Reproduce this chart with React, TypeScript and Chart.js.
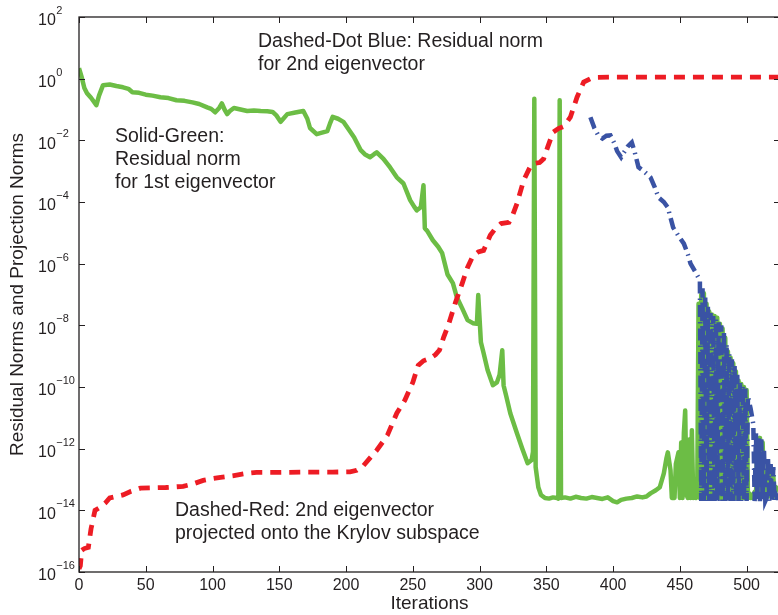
import React, { useEffect, useRef } from 'react';
import { Chart, registerables } from 'chart.js';

Chart.register(...registerables);

// ---- axes ----
const xTicks = [0, 50, 100, 150, 200, 250, 300, 350, 400, 450, 500];
const yTickExponents = [-16, -14, -12, -10, -8, -6, -4, -2, 0, 2];
const xMin = 0;
const xMax = 525;

// ---- Solid green: residual norm for 1st eigenvector (iteration, log10 of norm) ----
const greenIter = [
  0, 2, 4, 6, 9, 13, 15, 18, 23, 28,
  33, 37, 40, 45, 50, 55, 61, 67, 73, 79,
  85, 90, 96, 99, 102, 105, 107, 109, 111, 113,
  116, 121, 126, 131, 136, 141, 145, 148, 151, 153,
  156, 162, 168, 171, 173, 178, 182, 186, 188, 190,
  194, 198, 202, 206, 211, 214, 218, 221, 223, 228,
  233, 238, 243, 248, 251, 253, 256, 258, 259, 261,
  265, 269, 272, 276, 280, 283, 287, 291, 295, 298,
  299, 301, 303, 306, 310, 313, 315, 317, 318, 320,
  323, 328, 332, 336, 339, 340, 341, 342, 344, 346,
  349, 352, 355, 358, 359, 360, 361, 364, 368, 372,
  376, 380, 384, 388, 392, 396, 400, 403, 406, 410,
  414, 418, 422, 425, 428, 432, 435, 438, 440, 441,
  443, 444, 446, 447, 449, 450, 451, 452, 453, 454,
  455, 456, 457, 458, 459, 460, 461, 462, 463, 464,
  465, 466, 467, 468, 469, 470, 471, 472, 473, 474,
  475, 476, 477, 478, 479, 480, 481, 482, 483, 484,
  485, 486, 487, 488, 489, 490, 491, 492, 493, 494,
  495, 496, 497, 498, 499, 500, 501, 502, 503, 504,
  505, 506, 507, 508, 509, 510, 511, 512, 513, 514,
  515, 516, 517, 518, 519, 520, 521, 522, 523, 525,
];
const greenLog10 = [
  0.34, 0.05, -0.3, -0.47, -0.62, -0.86, -0.55, -0.21, -0.19, -0.24,
  -0.28, -0.33, -0.44, -0.46, -0.52, -0.55, -0.6, -0.63, -0.7, -0.72,
  -0.77, -0.82, -0.93, -0.98, -1.09, -0.95, -0.8, -1.0, -1.15, -1.05,
  -0.95, -1.0, -1.05, -1.03, -1.05, -1.06, -1.08, -1.2, -1.4, -1.3,
  -1.15, -1.1, -1.05, -1.3, -1.6, -1.8, -1.75, -1.7, -1.45, -1.24,
  -1.3, -1.4, -1.65, -1.9, -2.32, -2.45, -2.55, -2.45, -2.39, -2.6,
  -2.88, -3.2, -3.4, -3.94, -4.15, -4.27, -4.17, -3.46, -4.85, -4.95,
  -5.24, -5.45, -5.66, -6.35, -6.63, -7.09, -7.45, -7.83, -7.93, -7.95,
  -7.02, -8.55, -8.9, -9.45, -9.94, -9.85, -9.6, -8.81, -9.95, -10.3,
  -10.85, -11.5, -12.0, -12.47, -12.37, -12.1, -0.65, -12.6, -13.25, -13.5,
  -13.6, -13.62, -13.58, -13.6, -13.62, -0.7, -13.6, -13.58, -13.62, -13.56,
  -13.6, -13.62, -13.57, -13.6, -13.63, -13.58, -13.7, -13.74, -13.66, -13.62,
  -13.6, -13.55, -13.58, -13.55, -13.45, -13.35, -13.25, -12.8, -12.3, -12.12,
  -12.7, -13.6, -13.6, -12.5, -12.12, -13.6, -11.8, -13.6, -11.5, -10.76,
  -13.5, -13.6, -11.7, -13.6, -11.4, -13.6, -13.0, -13.6, -13.5, -7.3,
  -13.6, -7.0, -13.6, -6.96, -13.6, -7.3, -13.6, -7.55, -13.6, -7.65,
  -13.6, -7.7, -13.6, -7.75, -13.6, -7.95, -13.6, -8.1, -13.6, -8.4,
  -13.6, -8.85, -13.6, -9.05, -13.6, -9.23, -13.6, -9.5, -13.6, -9.8,
  -13.6, -9.9, -13.6, -10.0, -13.6, -10.1, -13.6, -13.45, -13.6, -13.5,
  -13.6, -13.4, -13.55, -11.9, -13.55, -11.65, -13.55, -11.8, -13.55, -13.6,
  -13.45, -12.7, -13.55, -12.6, -13.55, -12.9, -13.55, -13.25, -13.3, -13.35,
];

// ---- Dashed-dot blue: residual norm for 2nd eigenvector ----
const blueIter = [
  383, 386, 389, 392, 395, 398, 401, 403, 406, 408,
  411, 414, 416, 419, 423, 428, 431, 434, 438, 441,
  445, 449, 453, 456, 458, 462, 465, 466, 467, 468,
  469, 470, 471, 472, 473, 474, 475, 476, 477, 478,
  479, 480, 481, 482, 483, 484, 485, 486, 487, 488,
  489, 490, 491, 492, 493, 494, 495, 496, 497, 498,
  499, 500, 501, 503, 505, 506, 507, 508, 509, 510,
  511, 512, 513, 514, 515, 516, 517, 518, 519, 520,
  521, 522, 523, 525,
];
const blueLog10 = [
  -1.25, -1.6, -1.85, -1.94, -1.85, -1.84, -2.1, -2.35, -2.55, -2.4,
  -2.2, -2.07, -2.35, -2.87, -3.0, -3.2, -3.5, -3.85, -4.0, -4.18,
  -4.83, -5.1, -5.35, -5.7, -6.0, -6.3, -6.54, -13.7, -6.8, -13.7,
  -7.1, -13.7, -7.4, -13.7, -7.6, -13.7, -7.7, -13.7, -7.8, -13.7,
  -7.9, -13.7, -8.0, -13.7, -8.2, -13.7, -8.6, -13.7, -8.9, -13.7,
  -9.1, -13.7, -9.3, -13.7, -9.6, -13.7, -9.8, -13.7, -9.95, -13.7,
  -10.05, -13.7, -10.3, -10.7, -11.2, -13.7, -11.5, -13.7, -11.6, -13.7,
  -11.7, -13.7, -12.0, -13.7, -13.6, -12.3, -13.7, -12.5, -13.7, -12.6,
  -13.7, -13.5, -13.6, -13.6,
];

// ---- Dashed red: 2nd eigenvector projected onto the Krylov subspace ----
const redIter = [
  0, 1, 2, 4, 7, 9, 12, 16, 20, 23,
  28, 33, 39, 46, 55, 65, 78, 85, 93, 100,
  106, 115, 126, 133, 150, 170, 190, 203, 208, 213,
  218, 223, 228, 231, 238, 244, 250, 254, 258, 263,
  267, 270, 273, 277, 282, 287, 291, 295, 299, 303,
  308, 312, 316, 322, 325, 328, 333, 338, 341, 345,
  348, 351, 355, 359, 363, 368, 373, 378, 383, 388,
  400, 450, 525,
];
const redLog10 = [
  -15.9, -15.8, -15.3, -15.24, -15.2, -14.6, -14.0, -13.9, -13.75, -13.6,
  -13.55, -13.5, -13.38, -13.28, -13.27, -13.26, -13.22, -13.15, -13.03, -12.97,
  -12.93, -12.88, -12.8, -12.77, -12.77, -12.76, -12.76, -12.75, -12.7, -12.55,
  -12.3, -12.05, -11.75, -11.56, -10.85, -10.43, -9.85, -9.3, -9.15, -9.07,
  -8.95, -8.8, -8.4, -7.94, -7.25, -6.64, -6.12, -5.75, -5.62, -5.57,
  -5.08, -4.85, -4.7, -4.66, -4.4, -4.05, -3.3, -2.85, -2.75, -2.72,
  -2.6, -2.22, -1.74, -1.62, -1.55, -1.25, -0.6, -0.11, 0.0, 0.04,
  0.05, 0.05, 0.05,
];

// ---- texts ----
const yTitle = 'Residual Norms and Projection Norms';
const xTitle = 'Iterations';
const noteBlue = ['Dashed-Dot Blue: Residual norm', 'for 2nd eigenvector'];
const noteGreen = ['Solid-Green:', 'Residual norm', 'for 1st eigenvector'];
const noteRed = ['Dashed-Red: 2nd eigenvector', 'projected onto the Krylov subspace'];

const FONT = '"Liberation Sans", Arial, Helvetica, sans-serif';
const INK = '#231f20';

const toPoints = (xs: number[], ls: number[]) => xs.map((x, i) => ({ x, y: Math.pow(10, ls[i]) }));

const decorPlugin = {
  id: 'decor',
  afterDraw(chart: any) {
    const { ctx, chartArea: a, scales } = chart;
    ctx.save();
    ctx.strokeStyle = INK;
    ctx.lineWidth = 1.3;
    ctx.strokeRect(a.left, a.top, a.right - a.left, a.bottom - a.top);
    ctx.lineWidth = 1;
    ctx.beginPath();
    for (const t of scales.x.ticks) {
      const px = Math.round(scales.x.getPixelForValue(t.value)) + 0.5;
      ctx.moveTo(px, a.bottom); ctx.lineTo(px, a.bottom - 6);
      ctx.moveTo(px, a.top); ctx.lineTo(px, a.top + 6);
    }
    for (const t of scales.y.ticks) {
      const py = Math.round(scales.y.getPixelForValue(t.value)) + 0.5;
      ctx.moveTo(a.left, py); ctx.lineTo(a.left + 6, py);
      ctx.moveTo(a.right, py); ctx.lineTo(a.right - 6, py);
    }
    ctx.stroke();

    ctx.fillStyle = INK;
    ctx.textAlign = 'left';
    ctx.textBaseline = 'middle';
    // y tick labels: 10 with a raised exponent, from the log axis ticks
    for (const t of scales.y.ticks) {
      const py = scales.y.getPixelForValue(t.value);
      const e = Math.round(Math.log10(t.value));
      ctx.font = '16px ' + FONT;
      ctx.fillText('10', 38, py + 4);
      const w = ctx.measureText('10').width;
      ctx.font = '11px ' + FONT;
      ctx.fillText(String(e).replace('-', '\u2212'), 38 + w + 0.5, py - 6);
    }

    ctx.font = '19.5px ' + FONT;
    noteBlue.forEach((t, i) => ctx.fillText(t, 258, 42 + i * 23));
    noteGreen.forEach((t, i) => ctx.fillText(t, 115, 137 + i * 23));
    noteRed.forEach((t, i) => ctx.fillText(t, 175, 511 + i * 23));

    ctx.font = '19px ' + FONT;
    ctx.textAlign = 'center';
    ctx.fillText(xTitle, (a.left + a.right) / 2, 604);
    ctx.translate(18, (a.top + a.bottom) / 2);
    ctx.rotate(-Math.PI / 2);
    ctx.fillText(yTitle, 0, 0);
    ctx.restore();
  },
};

export default function App() {
  const ref = useRef<HTMLCanvasElement>(null);
  useEffect(() => {
    document.body.style.margin = '0';
    Chart.defaults.font.family = FONT;
    const chart = new Chart(ref.current as HTMLCanvasElement, {
      type: 'line',
      data: {
        datasets: [
          {
            label: 'Residual norm for 2nd eigenvector',
            data: toPoints(blueIter, blueLog10),
            borderColor: '#3a53a4',
            borderWidth: 4.5,
            borderDash: [12, 5, 1.5, 5],
            pointRadius: 0,
            order: 1,
          },
          {
            label: '2nd eigenvector projected onto the Krylov subspace',
            data: toPoints(redIter, redLog10),
            borderColor: '#ed1c24',
            borderWidth: 4.8,
            borderDash: [11, 8],
            pointRadius: 0,
            order: 2,
          },
          {
            label: 'Residual norm for 1st eigenvector',
            data: toPoints(greenIter, greenLog10),
            borderColor: '#6cbd45',
            borderWidth: 4.5,
            borderJoinStyle: 'round',
            pointRadius: 0,
            order: 3,
          },
        ],
      },
      options: {
        animation: false,
        responsive: false,
        layout: { padding: { left: 38, top: 17, right: 2, bottom: 0 } },
        plugins: { legend: { display: false }, tooltip: { enabled: false } },
        scales: {
          x: {
            type: 'linear',
            min: xMin,
            max: xMax,
            grid: { display: false, drawTicks: false },
            border: { display: false },
            afterBuildTicks: (s: any) => { s.ticks = xTicks.map((v) => ({ value: v })); },
            afterFit: (s: any) => { s.height = 43; },
            ticks: { color: INK, font: { size: 16 }, padding: 4, maxRotation: 0, autoSkip: false },
          },
          y: {
            type: 'logarithmic',
            min: Math.pow(10, -16),
            max: Math.pow(10, 2),
            grid: { display: false, drawTicks: false },
            border: { display: false },
            afterBuildTicks: (s: any) => { s.ticks = yTickExponents.map((e) => ({ value: Math.pow(10, e) })); },
            afterFit: (s: any) => { s.width = 41; },
            ticks: { display: false },
          },
        },
      },
      plugins: [decorPlugin],
    } as any);
    return () => chart.destroy();
  }, []);
  return (
    <div style={{ width: 778, height: 615, overflow: 'hidden', position: 'relative' }}>
      <canvas ref={ref} width={782} height={615} style={{ display: 'block' }} />
    </div>
  );
}
